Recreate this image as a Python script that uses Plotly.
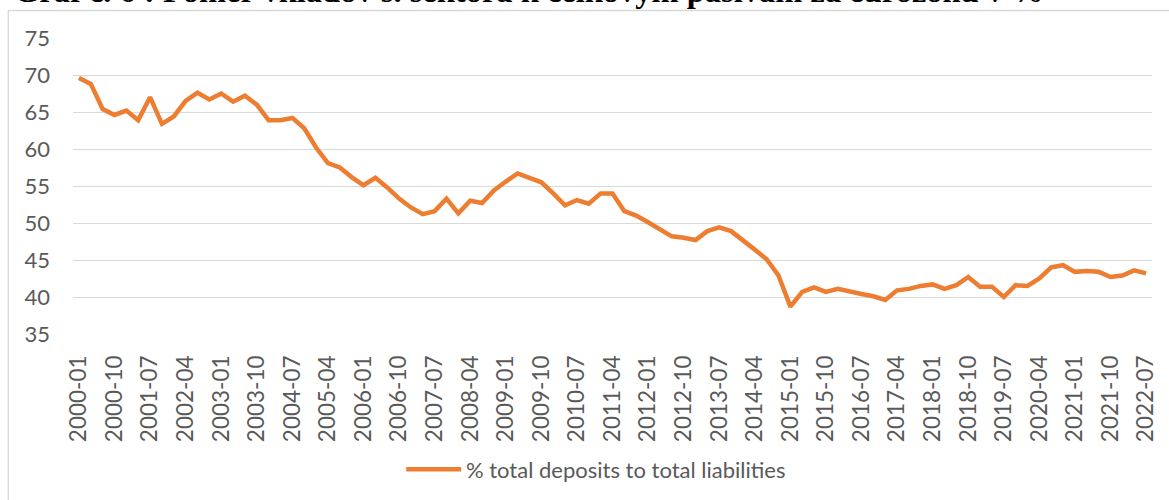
import plotly.graph_objects as go

# Quarterly observations, 2000-01 .. 2022-07
years = list(range(2000, 2023))
months = ["01", "04", "07", "10"]
quarters = [f"{y}-{m}" for y in years for m in months][:91]

deposit_ratio = [
    69.6, 68.8, 65.4, 64.6, 65.2, 63.9, 67.0, 63.4, 64.4, 66.5,
    67.6, 66.7, 67.5, 66.4, 67.2, 66.0, 63.9, 63.9, 64.2, 62.8,
    60.2, 58.1, 57.5, 56.2, 55.1, 56.1, 54.8, 53.3, 52.1, 51.2,
    51.6, 53.3, 51.3, 53.0, 52.7, 54.4, 55.6, 56.7, 56.1, 55.5,
    54.0, 52.4, 53.1, 52.6, 54.0, 54.0, 51.6, 51.0, 50.1, 49.1,
    48.2, 48.0, 47.7, 48.9, 49.4, 48.9, 47.7, 46.4, 45.1, 42.9,
    38.7, 40.7, 41.3, 40.7, 41.1, 40.7, 40.4, 40.1, 39.6, 40.9,
    41.1, 41.5, 41.7, 41.1, 41.6, 42.7, 41.4, 41.4, 40.0, 41.6,
    41.5, 42.5, 44.0, 44.3, 43.4, 43.5, 43.4, 42.7, 42.9, 43.6,
    43.2,
]

tick_labels = quarters[::3]
y_ticks = [35, 40, 45, 50, 55, 60, 65, 70, 75]

series_name = "% total deposits to total liabilities"
title_text = "Graf č. 6 : Pomer vkladov s. sektora k celkovým pasívam za eurozónu v %"

ORANGE = "#ED7D31"
GRID = "#D9D9D9"
LABEL = "#595959"
FONT = "Lato, 'Open Sans', sans-serif"

W, H = 1169, 500
L, R, T, B = 72.7, 17, 37.5, 166.3
pw, ph = W - L - R, H - T - B


def px_x(p):
    return (p - L) / pw


def px_y(p):
    return 1 + (T - p) / ph


fig = go.Figure()
fig.add_trace(go.Scatter(
    x=quarters, y=deposit_ratio, mode="lines", name=series_name,
    line=dict(color=ORANGE, width=4.5, shape="linear"),
    showlegend=False,
))

# legend key drawn below the plot: a line sample followed by the series name
legend_y = px_y(469)
legend_shapes = [
    dict(type="line", xref="paper", yref="paper",
         x0=px_x(406), x1=px_x(461), y0=legend_y, y1=legend_y,
         line=dict(color=ORANGE, width=4.5)),
]

fig.update_layout(
    width=W, height=H,
    margin=dict(l=L, r=R, t=T, b=B, autoexpand=False),
    paper_bgcolor="white", plot_bgcolor="white",
    font=dict(family=FONT, color=LABEL, size=22),
    xaxis=dict(
        type="category", categoryorder="array", categoryarray=quarters,
        range=[-0.5, len(quarters) - 0.5],
        tickmode="array", tickvals=tick_labels, ticktext=tick_labels,
        tickangle=-90, showgrid=False, showline=False, zeroline=False,
        ticks="", ticklabelstandoff=16,
        tickfont=dict(family=FONT, color=LABEL, size=22.5),
    ),
    yaxis=dict(
        range=[35, 75], tickvals=y_ticks, showgrid=True, gridcolor=GRID,
        gridwidth=1.3, zeroline=False, showline=False, ticks="",
        ticklabelstandoff=22,
        tickfont=dict(family=FONT, color=LABEL, size=22),
    ),
    showlegend=False,
    shapes=[
        dict(type="rect", xref="paper", yref="paper",
             x0=px_x(8), x1=px_x(1190), y0=px_y(520), y1=px_y(10),
             line=dict(color=GRID, width=1.3), fillcolor="rgba(0,0,0,0)",
             layer="below"),
    ] + legend_shapes,
    annotations=[
        dict(text=series_name, xref="paper", yref="paper",
             x=px_x(464), xanchor="left", y=legend_y, yanchor="middle",
             showarrow=False,
             font=dict(family=FONT, color=LABEL, size=22)),
        dict(text=title_text, xref="paper", yref="paper",
             x=px_x(12), xanchor="left", y=px_y(10), yanchor="bottom",
             showarrow=False,
             font=dict(family="'Liberation Serif', 'Times New Roman', serif",
                       size=32.5, color="black", weight="bold")),
    ],
)

fig.write_html("out.html")
